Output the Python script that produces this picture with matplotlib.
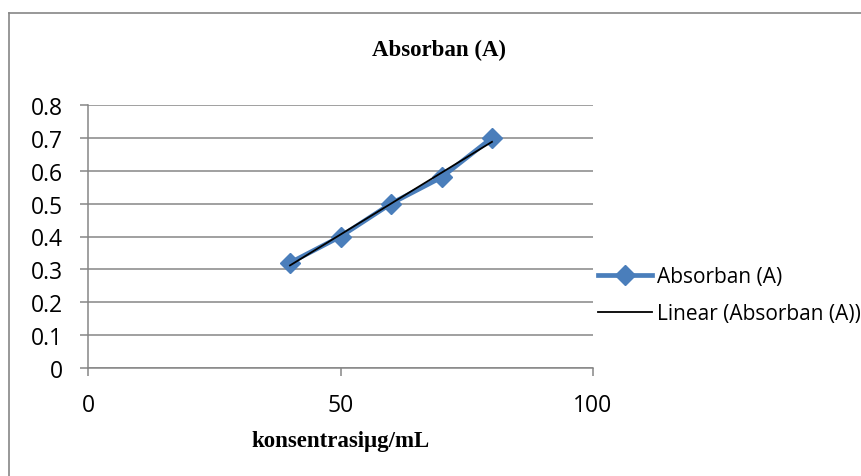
#import matplotlib and numpy
import matplotlib.pyplot as plt
from matplotlib.lines import Line2D
import numpy as np

#concentration (ug/mL) and measured absorbance
konsentrasi = [40, 50, 60, 70, 80]
absorban = [0.32, 0.40, 0.50, 0.58, 0.70]
x_ticks = [0, 50, 100]
y_ticks = [0, 0.1, 0.2, 0.3, 0.4, 0.5, 0.6, 0.7, 0.8]

grey = '#868686'
blue = '#4a7ebb'
plt.rcParams['font.family'] = ['Open Sans', 'DejaVu Sans']

fig = plt.figure(figsize=(8.61, 4.77), dpi=100)
ax = fig.add_axes([88/861, 1-369/477, (593-88)/861, (369-106)/477])

#data series with diamond markers
ax.plot(konsentrasi, absorban, color=blue, linewidth=3.4, marker='D',
        markersize=10.5, markerfacecolor=blue, markeredgecolor=blue,
        label='Absorban (A)', zorder=3)

#linear trendline fitted to the data
slope, intercept = np.polyfit(konsentrasi, absorban, 1)
xs = np.array([min(konsentrasi), max(konsentrasi)])
ax.plot(xs, slope*xs + intercept, color='black', linewidth=1.3,
        label='Linear (Absorban (A))', zorder=4)

#axes styling
ax.set_xlim(0, 100)
ax.set_ylim(0, 0.8)
ax.set_xticks(x_ticks)
ax.set_yticks(y_ticks)
ax.set_yticklabels(['0' if v == 0 else f'{v:g}' for v in y_ticks])
ax.grid(axis='y', color=grey, linewidth=1.1)
ax.set_axisbelow(True)
for side in ['top', 'right']:
    ax.spines[side].set_visible(False)
for side in ['left', 'bottom']:
    ax.spines[side].set_color(grey)
    ax.spines[side].set_linewidth(1.1)
ax.tick_params(axis='both', direction='out', length=5.8, width=1.1,
               color=grey, labelsize=16.5, labelcolor='black')
ax.tick_params(axis='y', pad=12)
ax.tick_params(axis='x', pad=12)

#title and axis label
fig.text(439/861, 1-50/477, 'Absorban (A)', ha='center', va='center',
         family='Liberation Serif', fontweight='bold', fontsize=16.5)
fig.text(340.5/861, 1-442/477, 'konsentrasiμg/mL', ha='center', va='center',
         family='Liberation Serif', fontweight='bold', fontsize=16.5)

#legend on the right side
ax.legend(loc='center left', bbox_to_anchor=(598/861, 1-296/477),
          bbox_transform=fig.transFigure, frameon=False, fontsize=15,
          handlelength=2.6, handletextpad=0.25, labelspacing=0.75,
          borderpad=0, borderaxespad=0)

#chart border
fig.add_artist(Line2D([8.5/861, 8.5/861], [1-13.5/477, 0], color=grey,
                      linewidth=1.2, transform=fig.transFigure))
fig.add_artist(Line2D([8.5/861, 1], [1-13.5/477, 1-13.5/477], color=grey,
                      linewidth=1.2, transform=fig.transFigure))

fig.savefig('out.png', dpi=100)
